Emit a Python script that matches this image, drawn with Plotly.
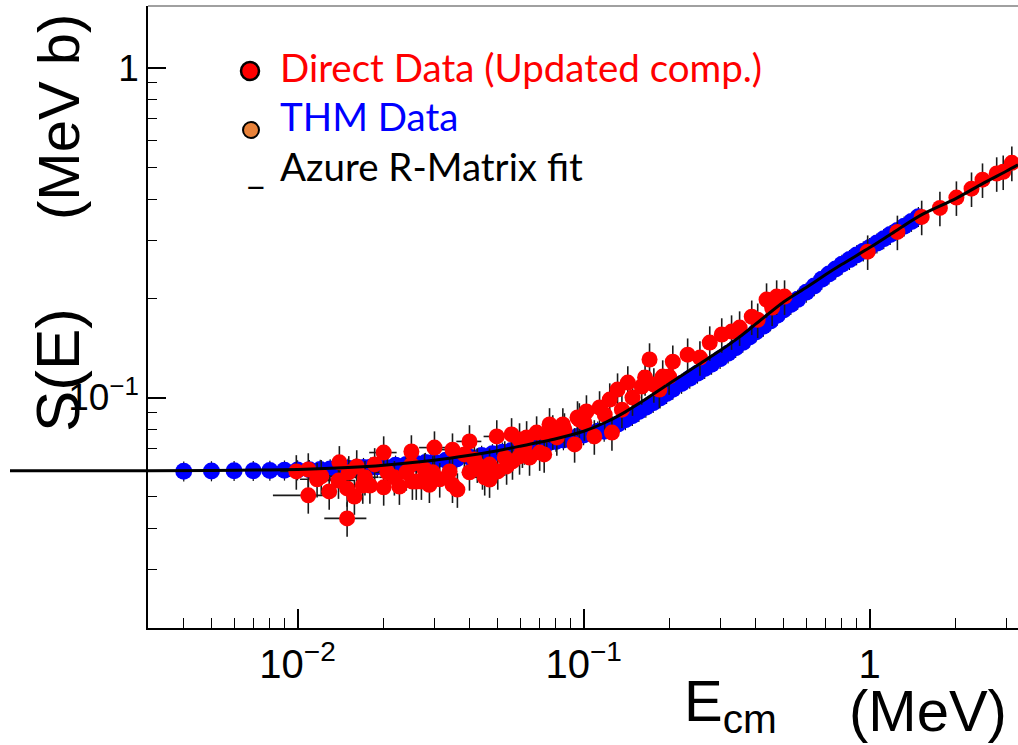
import math
import plotly.graph_objects as go

# ---------------- axis ranges / ticks ----------------
X_MIN, X_MAX = 0.003, 3.3
Y_MIN, Y_MAX = 0.02, 1.54

X_TICKS = [0.01, 0.1, 1]
X_TICKTEXT = ["10<sup>−2</sup>", "10<sup>−1</sup>", "1"]
X_MINOR = [0.004, 0.005, 0.006, 0.007, 0.008, 0.009,
           0.02, 0.03, 0.04, 0.05, 0.06, 0.07, 0.08, 0.09,
           0.2, 0.3, 0.4, 0.5, 0.6, 0.7, 0.8, 0.9, 2, 3]
Y_TICKS = [0.1, 1]
Y_TICKTEXT = ["10<sup>−1</sup>", "1"]
Y_MINOR = [0.02, 0.03, 0.04, 0.05, 0.06, 0.07, 0.08, 0.09,
           0.2, 0.3, 0.4, 0.5, 0.6, 0.7, 0.8, 0.9]

# ---------------- Azure R-matrix fit ----------------
FIT_E = [0.003, 0.005, 0.008, 0.01, 0.015, 0.02, 0.03, 0.04, 0.05, 0.06, 0.08,
         0.1, 0.12, 0.14, 0.16, 0.2, 0.25, 0.3, 0.35, 0.4, 0.5, 0.6, 0.7, 0.8,
         1.0, 1.2, 1.5, 2.0, 2.5, 3.0, 3.3]
FIT_S = [0.0600, 0.0601, 0.0603, 0.0605, 0.0613, 0.0623, 0.0645, 0.0668, 0.0690,
         0.0712, 0.0750, 0.0790, 0.0843, 0.0905, 0.0972, 0.1105, 0.1253, 0.1388,
         0.1525, 0.1672, 0.1950, 0.2157, 0.2356, 0.2535, 0.2850, 0.3152, 0.3563,
         0.4012, 0.4470, 0.4857, 0.5080]

# ---------------- THM data ----------------
THM_E = [0.004, 0.005, 0.006, 0.007, 0.008, 0.009, 0.010, 0.011, 0.012, 0.013,
         0.014, 0.015, 0.016, 0.017, 0.018, 0.019, 0.020, 0.022, 0.024, 0.026,
         0.028, 0.030, 0.033, 0.036, 0.040, 0.044, 0.048, 0.052, 0.056, 0.060,
         0.065, 0.070, 0.075, 0.080, 0.085, 0.090, 0.095, 0.100, 0.106, 0.112,
         0.118, 0.125, 0.132, 0.140, 0.148, 0.156, 0.165, 0.175, 0.185, 0.195,
         0.205, 0.220, 0.235, 0.250, 0.265, 0.280, 0.300, 0.320, 0.340, 0.360,
         0.380, 0.400, 0.425, 0.450, 0.475, 0.500, 0.530, 0.560, 0.600, 0.640,
         0.680, 0.720, 0.760, 0.800, 0.850, 0.900, 0.950, 1.000, 1.060, 1.120,
         1.180, 1.250, 1.320, 1.400, 1.480]
THM_S = [0.0598, 0.0599, 0.0600, 0.0600, 0.0601, 0.0602, 0.0603, 0.0604, 0.0605, 0.0607,
         0.0608, 0.0610, 0.0611, 0.0613, 0.0615, 0.0617, 0.0619, 0.0623, 0.0627, 0.0631,
         0.0635, 0.0639, 0.0645, 0.0651, 0.0659, 0.0667, 0.0675, 0.0683, 0.0691, 0.0700,
         0.0709, 0.0718, 0.0727, 0.0736, 0.0744, 0.0753, 0.0762, 0.0770, 0.0780, 0.0790,
         0.0790, 0.0810, 0.0832, 0.0856, 0.0881, 0.0907, 0.0934, 0.0965, 0.0996, 0.1028,
         0.1059, 0.1103, 0.1144, 0.1185, 0.1224, 0.1261, 0.1312, 0.1363, 0.1416, 0.1470,
         0.1525, 0.1581, 0.1645, 0.1708, 0.1776, 0.1844, 0.1915, 0.1985, 0.2085, 0.2180,
         0.2283, 0.2368, 0.2452, 0.2535, 0.2620, 0.2707, 0.2780, 0.2850, 0.2940, 0.3030,
         0.3120, 0.3210, 0.3310, 0.3420, 0.3535]
THM_ERR_PCT = 7

# ---------------- Direct data (updated compilation) ----------------
DIR_E = [0.0099, 0.0109, 0.0109, 0.0121, 0.0129, 0.0140, 0.0139, 0.0149, 0.0149, 0.0161,
         0.0151, 0.0169, 0.0179, 0.0200, 0.0200, 0.0206, 0.0227, 0.0250, 0.0250, 0.0240,
         0.0260, 0.0252, 0.0271, 0.0289, 0.0301, 0.0297, 0.0348, 0.0348, 0.0340, 0.0399,
         0.0399, 0.0425, 0.0443, 0.0469, 0.0497, 0.0501, 0.0538, 0.0560, 0.0564, 0.0597,
         0.0611, 0.0597, 0.0685, 0.0702, 0.0743, 0.0760, 0.0780, 0.0806, 0.0647, 0.0469,
         0.0415, 0.0632, 0.0846, 0.0930, 0.0952, 0.1023, 0.1006, 0.1090, 0.1137, 0.1234,
         0.1256, 0.1314, 0.1361, 0.1427, 0.1482, 0.1596, 0.1640, 0.1760, 0.1890, 0.2050,
         0.1990, 0.2310, 0.2550, 0.2760, 0.3040, 0.3290, 0.3510, 0.3870, 0.4060, 0.4360,
         0.4560, 0.4730, 0.5040, 0.9840, 1.2500, 1.5200, 1.7600, 2.0100, 2.2700, 2.4800,
         2.7800, 2.9300, 3.1400,
         0.0117, 0.0158, 0.0172, 0.0186, 0.0218, 0.0278, 0.0314, 0.0362, 0.0383, 0.0451,
         0.0530, 0.0621, 0.0728, 0.0857, 0.0966, 0.1185, 0.1700, 0.1840]
DIR_S = [0.0597, 0.0505, 0.0605, 0.0577, 0.0519, 0.0636, 0.0560, 0.0530, 0.0430, 0.0618,
         0.0593, 0.0541, 0.0541, 0.0681, 0.0534, 0.0593, 0.0537, 0.0686, 0.0626, 0.0593,
         0.0556, 0.0556, 0.0556, 0.0544, 0.0705, 0.0593, 0.0544, 0.0695, 0.0597, 0.0736,
         0.0593, 0.0626, 0.0597, 0.0626, 0.0762, 0.0597, 0.0618, 0.0773, 0.0640, 0.0746,
         0.0695, 0.0663, 0.0783, 0.0681, 0.0773, 0.0829, 0.0789, 0.0757, 0.0658, 0.0564,
         0.0649, 0.0757, 0.0829, 0.0721, 0.0870, 0.0907, 0.0840, 0.0762, 0.0933, 0.0986,
         0.0783, 0.1057, 0.0919, 0.1110, 0.1000, 0.1080, 0.1150, 0.1095, 0.1158, 0.1285,
         0.1158, 0.1349, 0.1322, 0.1468, 0.1553, 0.1585, 0.1630, 0.1758, 0.1722, 0.1982,
         0.1874, 0.2024, 0.2024, 0.2770, 0.3180, 0.3530, 0.3760, 0.4040, 0.4300, 0.4580,
         0.4780, 0.4840, 0.5150,
         0.0565, 0.0501, 0.0573, 0.0627, 0.0573, 0.0605, 0.0565, 0.0526, 0.0672, 0.0573,
         0.0658, 0.0711, 0.0672, 0.0800, 0.0858, 0.0888, 0.1304, 0.1057]
DIR_EERR = [0.0012, 0.0027, 0.0, 0.0012, 0.0, 0.0, 0.0020, 0.0, 0.0025, 0.0020,
            0.0, 0.0015, 0.0, 0.0022, 0.0, 0.0020, 0.0, 0.0, 0.0025, 0.0,
            0.0030, 0.0, 0.0, 0.0, 0.0035, 0.0, 0.0, 0.0030, 0.0, 0.0040,
            0.0, 0.0, 0.0, 0.0, 0.0050, 0.0, 0.0, 0.0040, 0.0, 0.0,
            0.0, 0.0, 0.0, 0.0, 0.0, 0.0, 0.0, 0.0, 0.0, 0.0,
            0.0, 0.0, 0.0, 0.0, 0.0, 0.0, 0.0, 0.0, 0.0, 0.0,
            0.0, 0.0, 0.0, 0.0, 0.0, 0.0, 0.0, 0.0, 0.0, 0.0,
            0.0, 0.0, 0.0, 0.0, 0.0, 0.0, 0.0, 0.0, 0.0, 0.0,
            0.0, 0.0, 0.0, 0.0, 0.0, 0.0, 0.0, 0.0, 0.0, 0.0,
            0.0, 0.0, 0.0,
            0.0015, 0.0, 0.0020, 0.0, 0.0025, 0.0, 0.0030, 0.0, 0.0, 0.0045,
            0.0, 0.0, 0.0, 0.0, 0.0, 0.0, 0.0, 0.0]
DIR_ERR_PCT = 12

# ---------------- layout geometry (pixels) ----------------
W, H = 1018, 745
L, R, T, B = 148, 0, 6, 117
PW, PH = W - L - R, H - T - B


def px(x):
    return (x - L) / PW


def py(y):
    return (H - B - y) / PH


AX_FONT = "Liberation Sans, Arial, sans-serif"
LEG_FONT = "Lato, Open Sans, sans-serif"
LEG_SIZE = 38.5

fig = go.Figure()

fig.add_trace(go.Scatter(
    x=THM_E, y=THM_S, mode="markers", name="THM Data",
    marker=dict(color="#0000FF", size=17, line=dict(width=0)),
    error_y=dict(type="percent", value=THM_ERR_PCT, color="#111111", thickness=1.2, width=0),
    showlegend=False,
))

fig.add_trace(go.Scatter(
    x=DIR_E, y=DIR_S, mode="markers", name="Direct Data",
    marker=dict(color="#FF0000", size=16, line=dict(width=0)),
    error_y=dict(type="percent", value=DIR_ERR_PCT, color="#1a1a1a", thickness=1.6, width=0),
    error_x=dict(type="data", array=DIR_EERR, color="#1a1a1a", thickness=1.6, width=0),
    showlegend=False,
))

fig.add_trace(go.Scatter(
    x=FIT_E, y=FIT_S, mode="lines", name="Azure R-Matrix fit",
    line=dict(color="black", width=3, shape="spline", smoothing=0.8),
    showlegend=False,
))

# fit line continues to the left, outside the frame
ly0, ly1 = math.log10(Y_MIN), math.log10(Y_MAX)
fit_left_paper_y = (math.log10(FIT_S[0]) - ly0) / (ly1 - ly0)
shapes = [
    dict(type="line", xref="paper", yref="paper", x0=px(10), x1=0,
         y0=fit_left_paper_y, y1=fit_left_paper_y, line=dict(color="black", width=3)),
    # top frame line
    dict(type="line", xref="paper", yref="paper", x0=0, x1=1, y0=1, y1=1,
         line=dict(color="#808080", width=1.5)),
    # legend markers
    dict(type="circle", xref="paper", yref="paper", xsizemode="pixel", ysizemode="pixel",
         xanchor=px(250), yanchor=py(71), x0=-9, x1=9, y0=-9, y1=9,
         fillcolor="#FF0000", line=dict(color="black", width=2.5)),
    dict(type="circle", xref="paper", yref="paper", xsizemode="pixel", ysizemode="pixel",
         xanchor=px(251), yanchor=py(130), x0=-8, x1=8, y0=-8, y1=8,
         fillcolor="#E8823A", line=dict(color="black", width=2)),
]

annotations = [
    dict(text="Direct Data (Updated comp.)", x=px(278), y=py(67), xanchor="left", yanchor="middle",
         font=dict(family=LEG_FONT, size=LEG_SIZE, color="#FF0000")),
    dict(text="THM Data", x=px(278), y=py(116), xanchor="left", yanchor="middle",
         font=dict(family=LEG_FONT, size=LEG_SIZE, color="#0000FF")),
    dict(text="_", x=px(245), y=py(168), xanchor="left", yanchor="middle",
         font=dict(family=LEG_FONT, size=LEG_SIZE, color="black")),
    dict(text="Azure R-Matrix fit", x=px(278), y=py(166), xanchor="left", yanchor="middle",
         font=dict(family=LEG_FONT, size=LEG_SIZE, color="black")),
    # axis titles
    dict(text="E<sub>cm</sub>", x=px(730), y=py(705), xanchor="center", yanchor="middle",
         font=dict(family=AX_FONT, size=58, color="black")),
    dict(text="(MeV)", x=px(928), y=py(710), xanchor="center", yanchor="middle",
         font=dict(family=AX_FONT, size=58, color="black")),
    dict(text="(MeV b)", x=px(58), y=py(117), xanchor="center", yanchor="middle", textangle=-90,
         font=dict(family=AX_FONT, size=58, color="black")),
    dict(text="S(E)", x=px(58), y=py(370), xanchor="center", yanchor="middle", textangle=-90,
         font=dict(family=AX_FONT, size=62, color="black")),
]
for a in annotations:
    a.update(xref="paper", yref="paper", showarrow=False)

fig.update_layout(
    width=W, height=H,
    margin=dict(l=L, r=R, t=T, b=B, pad=0),
    paper_bgcolor="white", plot_bgcolor="white",
    shapes=shapes, annotations=annotations,
    xaxis=dict(
        type="log", range=[math.log10(X_MIN), math.log10(X_MAX)],
        tickmode="array", tickvals=X_TICKS, ticktext=X_TICKTEXT,
        ticks="inside", ticklen=19, tickwidth=1.5, tickcolor="black",
        minor=dict(tickmode="array", tickvals=X_MINOR, ticks="inside", ticklen=10,
                   tickwidth=1.2, tickcolor="black", showgrid=False),
        showline=True, linecolor="black", linewidth=1.5, mirror=False,
        showgrid=False, zeroline=False,
        tickfont=dict(family=AX_FONT, size=40, color="black"),
    ),
    yaxis=dict(
        type="log", range=[ly0, ly1],
        tickmode="array", tickvals=Y_TICKS, ticktext=Y_TICKTEXT,
        ticks="inside", ticklen=18, tickwidth=1.5, tickcolor="black",
        minor=dict(tickmode="array", tickvals=Y_MINOR, ticks="inside", ticklen=9,
                   tickwidth=1.2, tickcolor="black", showgrid=False),
        showline=True, linecolor="black", linewidth=1.5, mirror=False,
        showgrid=False, zeroline=False,
        tickfont=dict(family=AX_FONT, size=37, color="black"),
    ),
)

fig.write_html("out.html")
